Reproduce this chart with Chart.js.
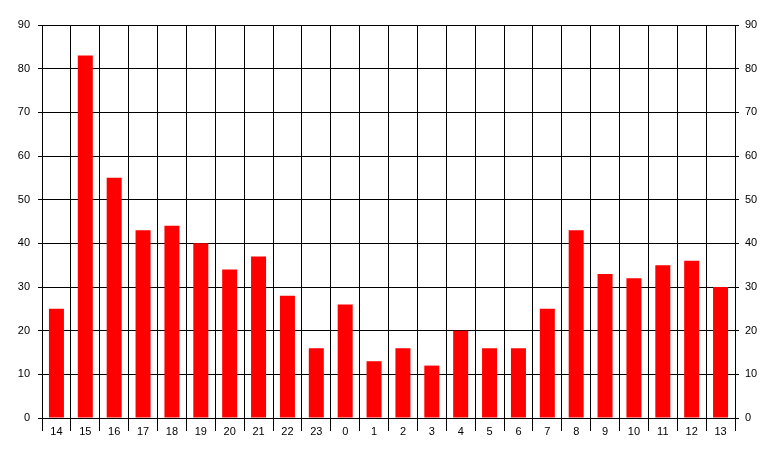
<!DOCTYPE html>
<html>
<head>
<meta charset="utf-8">
<script src="https://cdn.jsdelivr.net/npm/chart.js@4/dist/chart.umd.min.js"></script>
<style>
  html, body { margin: 0; padding: 0; background: #fff; }
  #wrap { width: 777px; height: 457px; }
</style>
</head>
<body>
<div id="wrap"><canvas id="grafico" width="777" height="457"></canvas></div>
<script>
// horas del día (empieza a las 14)
const horas = ["14", "15", "16", "17", "18", "19", "20", "21", "22", "23",
               "0", "1", "2", "3", "4", "5", "6", "7", "8", "9", "10", "11", "12", "13"];
const cantidades = [25, 83, 55, 43, 44, 40, 34, 37, 28, 16,
                    26, 13, 16, 12, 20, 16, 16, 25, 43, 33, 32, 35, 36, 30];
const ejeMin = 0;
const ejeMax = 90;
const ejePaso = 10;

const fuente = { family: "'Liberation Sans', Arial, sans-serif", size: 11 };

const ctx = document.getElementById("grafico").getContext("2d");
new Chart(ctx, {
    type: "bar",
    data: {
        labels: horas,
        datasets: [{
            data: cantidades,
            backgroundColor: "#ff0000",
            borderWidth: 0,
            barPercentage: 0.52,
            categoryPercentage: 1
        }]
    },
    options: {
        responsive: false,
        animation: false,
        layout: { padding: { top: 25, left: 0, right: 0, bottom: 0 } },
        plugins: {
            legend: { display: false },
            tooltip: { enabled: false }
        },
        scales: {
            x: {
                offset: true,
                grid: { color: "#000", lineWidth: 1, offset: true, tickLength: 13, drawTicks: true },
                border: { color: "#000" },
                ticks: { color: "#000", font: fuente, padding: -6, maxRotation: 0, autoSkip: false },
                afterFit(scale) { scale.height = 39; }
            },
            y: {
                position: "left",
                min: ejeMin,
                max: ejeMax,
                grid: { color: "#000", lineWidth: 1, tickLength: 4 },
                border: { color: "#000" },
                ticks: { stepSize: ejePaso, color: "#000", font: fuente, padding: 8 },
                afterFit(scale) { scale.width = 42; }
            },
            y2: {
                position: "right",
                min: ejeMin,
                max: ejeMax,
                grid: { color: "#000", lineWidth: 1, tickLength: 4, drawOnChartArea: false },
                border: { color: "#000" },
                ticks: { stepSize: ejePaso, color: "#000", font: fuente, padding: 6 },
                afterFit(scale) { scale.width = 42; }
            }
        }
    }
});
</script>
</body>
</html>
